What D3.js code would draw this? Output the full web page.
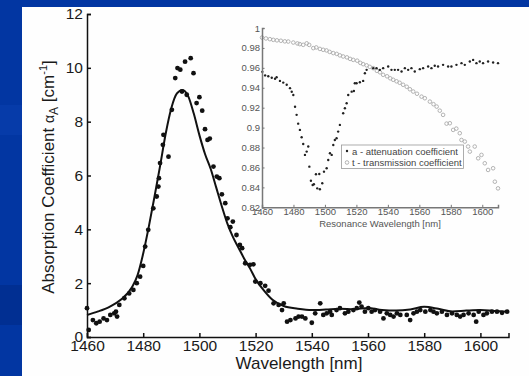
<!DOCTYPE html>
<html>
<head>
<meta charset="utf-8">
<script src="https://cdn.jsdelivr.net/npm/d3@7"></script>
<style>
html,body{margin:0;padding:0;background:#0236a2;}
svg{display:block;}
text{font-family:"Liberation Sans",Arial,sans-serif;}
</style>
</head>
<body>
<script>
// ---------- main chart data ----------
const mainXTicks = [1460,1480,1500,1520,1540,1560,1580,1600];
const mainYTicks = [0,2,4,6,8,10,12];

const fitWl  = [1460,1464,1468,1472,1476,1478,1480,1482,1484,1486,1488,1490,1492,1494,1496,1498,1500,1502,1504,1506,1508,1510,1512,1514,1516,1518,1520,1523,1526,1530,1535,1540,1545,1550,1555,1560,1565,1570,1575,1580,1585,1590,1595,1600,1605,1610];
const fitVal = [0.82,0.95,1.12,1.38,1.85,2.3,3.1,4.1,5.2,6.35,7.55,8.5,9.05,9.18,8.95,8.3,7.5,6.8,6.25,5.55,4.85,4.2,3.7,3.3,2.9,2.55,2.15,1.72,1.38,1.15,1.05,1.0,1.02,1.05,1.03,1.08,1.0,0.98,1.02,1.12,1.05,0.95,0.98,1.0,0.97,0.95];

const dotWl  = [1460,1460.6,1462.1,1463.3,1464.5,1465.9,1467.1,1468.3,1469.7,1470.3,1470.7,1471.5,1473.3,1475,1476.5,1477.7,1478.9,1480,1480.7,1481.8,1483.6,1484.8,1485.4,1485.6,1486,1487,1487.2,1489,1490.2,1491.4,1492.2,1493.2,1493.8,1494.9,1495.5,1496.9,1497.9,1499,1500,1501,1502,1502.9,1503.7,1505,1506.2,1507.1,1508,1509.2,1510,1511,1511.9,1513.2,1514.4,1515.2,1516.3,1518,1519.2,1519.9,1521.7,1523.4,1524.6,1526.4,1528.2,1529.4,1530,1531.2,1532.4,1534.2,1535.3,1536.5,1537.7,1540,1541.2,1543,1544.1,1545.3,1546.5,1547.1,1548.8,1550,1551.8,1553,1554.8,1556,1556.9,1557.7,1558.9,1560.1,1561.3,1562.5,1564.3,1565.5,1566.7,1567.9,1569.1,1570.3,1571.5,1573.8,1575,1576.2,1577.4,1578.6,1580.4,1582.2,1583.3,1584.5,1586.3,1588.1,1589.9,1591.6,1592.8,1594,1595.8,1597.6,1598.5,1599.4,1601.1,1602.3,1604.1,1605.9,1607.7,1609.5];
const dotVal = [1.07,0.26,0.63,0.51,0.57,0.69,0.63,0.82,0.88,0.94,0.76,1.19,1.44,1.62,1.75,2.0,2.24,2.64,3.36,3.98,4.78,5.22,5.59,5.9,6.46,7.14,7.51,6.7,8.44,9.62,9.99,9.93,9.12,10.23,9.0,10.36,9.8,8.69,8.91,8.41,7.72,7.32,7.37,6.33,5.96,5.9,5.3,4.97,4.41,4.08,4.29,3.79,3.42,3.3,2.74,2.68,2.7,2.06,2.0,1.9,1.72,1.25,1.19,1.0,1.25,0.57,0.63,0.69,0.76,0.76,0.69,0.53,0.88,1.25,0.82,0.88,0.94,0.82,1.0,1.07,0.88,0.94,1.0,1.07,1.28,1.13,0.94,1.07,0.94,1.0,0.94,0.69,0.88,0.82,0.76,0.88,0.82,0.82,0.63,0.88,0.94,1.0,0.94,1.0,0.94,0.88,0.94,0.82,0.88,0.82,0.76,0.82,0.88,0.82,0.57,0.94,0.82,0.88,0.94,0.94,0.9,0.94];

// ---------- inset data ----------
const insetXTicks = [1460,1480,1500,1520,1540,1560,1580,1600];
const insetYTicks = [0.82,0.84,0.86,0.88,0.9,0.92,0.94,0.96,0.98,1];

const aWl  = [1460.2,1462,1464,1466.2,1468.3,1469.3,1471.4,1473.5,1475.7,1477.8,1478.9,1479.9,1481,1482,1483,1484.1,1485.2,1486.2,1487.3,1488.4,1489.4,1490.1,1491.1,1492.2,1493,1494.3,1495.1,1496.4,1496.8,1498.3,1499.4,1501.1,1502.1,1503.2,1504.3,1505.3,1506.3,1507.4,1508.4,1509.5,1511.6,1512.7,1513.8,1514.8,1517,1518.4,1519,1520.1,1522.2,1524.3,1525.4,1526.5,1530.7,1532.8,1534.9,1537,1540.2,1542.3,1544.4,1546.5,1548.7,1550.8,1552.9,1555,1557.1,1560.3,1562.4,1565.6,1567.7,1569.8,1571.9,1575.1,1578.3,1580.4,1583.6,1586.8,1588.9,1592.1,1594.2,1596.3,1598.4,1600.5,1603.7,1606.9,1610];
const aVal = [0.956,0.9524,0.9515,0.950,0.949,0.9505,0.9469,0.9452,0.943,0.9396,0.936,0.9328,0.921,0.9128,0.904,0.8977,0.8903,0.8836,0.8726,0.8759,0.881,0.8608,0.8467,0.8424,0.8431,0.8532,0.839,0.8535,0.8381,0.8441,0.8558,0.8592,0.8675,0.8743,0.8726,0.8826,0.8876,0.8893,0.896,0.9027,0.9144,0.9194,0.9244,0.9328,0.9361,0.9368,0.9445,0.9445,0.9455,0.9469,0.9546,0.958,0.9597,0.9597,0.958,0.9597,0.9614,0.958,0.958,0.958,0.9563,0.9597,0.958,0.9597,0.9563,0.9587,0.9597,0.9614,0.9597,0.9621,0.9614,0.963,0.9614,0.9614,0.963,0.9647,0.963,0.9664,0.968,0.9647,0.9664,0.9647,0.9664,0.9654,0.9647];

const tWl  = [1460,1462.5,1465,1467.2,1469.5,1472,1474.5,1476.7,1479.9,1482.5,1484,1486.2,1488.4,1490,1492.6,1494.5,1496.8,1498.9,1501,1503,1505.3,1507.5,1509.5,1511.6,1514,1516,1518,1520.5,1522.5,1524.3,1526.5,1528.5,1530.7,1533,1535,1537,1539.5,1541.5,1543.4,1545.5,1547.5,1549.7,1552,1554,1556.1,1558.5,1561.4,1563.5,1566.7,1569,1571,1573,1575.1,1577.3,1579.4,1581.5,1583.5,1585.7,1586.8,1588.9,1591,1592.1,1595.2,1597.4,1599.5,1601.6,1603.7,1606.9,1608,1610];
const tVal = [0.9904,0.9895,0.9888,0.9881,0.9876,0.9872,0.9866,0.9864,0.9854,0.9845,0.9838,0.9831,0.9846,0.983,0.9798,0.9805,0.979,0.9781,0.9775,0.976,0.9748,0.974,0.9725,0.9714,0.9705,0.969,0.968,0.9672,0.965,0.9637,0.9625,0.961,0.9597,0.957,0.9555,0.953,0.9515,0.9495,0.948,0.9465,0.945,0.943,0.941,0.9385,0.9362,0.934,0.9311,0.9295,0.9261,0.9235,0.9211,0.917,0.9128,0.904,0.9044,0.8977,0.899,0.8944,0.8876,0.886,0.881,0.8759,0.881,0.8692,0.8726,0.8642,0.8575,0.8592,0.8457,0.839];

const legendLabels = ["a - attenuation coefficient","t - transmission coefficient"];

// ---------- drawing ----------
const W = 529, H = 376;
const svg = d3.select("body").append("svg").attr("width",W).attr("height",H);

svg.append("rect").attr("width",W).attr("height",H).attr("fill","#0236a2");
svg.append("rect").attr("x",0).attr("y",105).attr("width",22).attr("height",30).attr("fill","#0a3fae").attr("opacity",0.6);
svg.append("rect").attr("x",0).attr("y",285).attr("width",22).attr("height",40).attr("fill","#012c8c").attr("opacity",0.7);
svg.append("rect").attr("x",22).attr("y",7).attr("width",W-22).attr("height",H-7).attr("fill","#fefefe");

// main scales
const x = d3.scaleLinear().domain([1460,1610]).range([87,508.5]);
const y = d3.scaleLinear().domain([0,12]).range([337,14]);

const main = svg.append("g");

// line
main.append("path")
  .datum(fitWl.map((w,i)=>[w,fitVal[i]]))
  .attr("fill","none").attr("stroke","#111").attr("stroke-width",2)
  .attr("d", d3.line().x(d=>x(d[0])).y(d=>y(d[1])).curve(d3.curveMonotoneX));

// dots
main.selectAll("circle.m").data(dotWl.map((w,i)=>[w,dotVal[i]])).enter()
  .append("circle").attr("class","m")
  .attr("cx",d=>x(d[0])).attr("cy",d=>y(d[1])).attr("r",2.4).attr("fill","#111");

// axes
const xAxis = main.append("g").attr("transform","translate(0,337)")
  .call(d3.axisBottom(x).tickValues(mainXTicks).tickSize(-4).tickPadding(9).tickFormat(d3.format("d")));
const yAxis = main.append("g").attr("transform","translate(87,0)")
  .call(d3.axisLeft(y).tickValues(mainYTicks).tickSize(-4).tickPadding(4));
[xAxis,yAxis].forEach(g=>{
  g.select(".domain").attr("stroke","#111").attr("stroke-width",1.5);
  g.selectAll(".tick line").attr("stroke","#111").attr("stroke-width",1.5);
  g.selectAll(".tick text").attr("fill","#1a1a1a").style("font-size","15.5px").style("font-family","'Liberation Sans',Arial,sans-serif");
});
xAxis.selectAll(".tick text").attr("dy","0.71em").attr("y",3);

// main axis titles
main.append("text").attr("x",299).attr("y",369).attr("text-anchor","middle")
  .attr("fill","#1a1a1a").style("font-size","17px").text("Wavelength [nm]");

const yt = main.append("text").attr("transform","translate(54,177) rotate(-90)")
  .attr("text-anchor","middle").attr("fill","#1a1a1a").style("font-size","17px");
yt.append("tspan").text("Absorption Coefficient ");
yt.append("tspan").text("α").style("font-size","14px");
yt.append("tspan").text("A").style("font-size","12px").attr("dy",4);
yt.append("tspan").text(" [cm").attr("dy",-4);
yt.append("tspan").text("-1").style("font-size","11px").attr("dy",-7);
yt.append("tspan").text("]").attr("dy",7);

// ---------- inset ----------
const xi = d3.scaleLinear().domain([1460,1610]).range([262,498]);
const yi = d3.scaleLinear().domain([0.82,1]).range([207.3,28]);
const inset = svg.append("g");

inset.selectAll("circle.t").data(tWl.map((w,i)=>[w,tVal[i]])).enter()
  .append("circle").attr("class","t")
  .attr("cx",d=>xi(d[0])).attr("cy",d=>yi(d[1])).attr("r",1.8)
  .attr("fill","none").attr("stroke","#aaa").attr("stroke-width",0.9);

inset.selectAll("circle.a").data(aWl.map((w,i)=>[w,aVal[i]])).enter()
  .append("circle").attr("class","a")
  .attr("cx",d=>xi(d[0])).attr("cy",d=>yi(d[1])).attr("r",1.2).attr("fill","#222");

const xiAxis = inset.append("g").attr("transform","translate(0,207.3)")
  .call(d3.axisBottom(xi).tickValues(insetXTicks).tickSize(-2.5).tickPadding(1).tickFormat(d3.format("d")));
const yiAxis = inset.append("g").attr("transform","translate(262,0)")
  .call(d3.axisLeft(yi).tickValues(insetYTicks).tickSize(-2.5).tickPadding(2).tickFormat(d=>d===1?"1":d3.format(".2~f")(d)));
[xiAxis,yiAxis].forEach(g=>{
  g.select(".domain").attr("stroke","#777").attr("stroke-width",1.5);
  g.selectAll(".tick line").attr("stroke","#777").attr("stroke-width",1);
  g.selectAll(".tick text").attr("fill","#555").style("font-size","9.5px").style("font-family","'Liberation Sans',Arial,sans-serif");
});

inset.append("text").attr("x",380).attr("y",227).attr("text-anchor","middle")
  .attr("fill","#555").style("font-size","9.5px").text("Resonance Wavelength [nm]");

// legend
const lg = inset.append("g");
lg.append("rect").attr("x",341.5).attr("y",145).attr("width",122).attr("height",23.5)
  .attr("fill","#fff").attr("stroke","#999").attr("stroke-width",0.8);
lg.append("circle").attr("cx",347).attr("cy",151).attr("r",1.2).attr("fill","#222");
lg.append("circle").attr("cx",347).attr("cy",162.5).attr("r",1.8).attr("fill","none").attr("stroke","#aaa").attr("stroke-width",0.9);
legendLabels.forEach((t,i)=>{
  lg.append("text").attr("x",352).attr("y",154.5+i*11.5).attr("fill","#444").style("font-size","9.5px").text(t);
});
</script>
</body>
</html>
